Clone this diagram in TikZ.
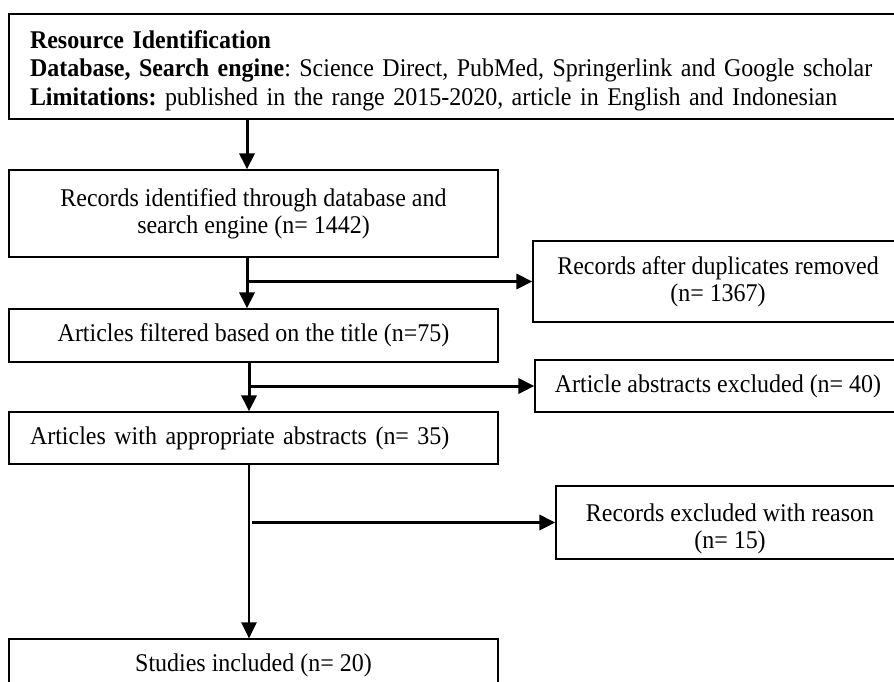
\documentclass[tikz,border=0pt]{standalone}
\usepackage{fontspec}
\setmainfont{Liberation Serif}[FakeStretch=0.94]
\usetikzlibrary{arrows.meta}
\frenchspacing
\begin{document}
\begin{tikzpicture}[x=1pt,y=-1pt,
  box/.style={draw, line width=1.2pt, rectangle, inner sep=0pt, align=center, font=\fontsize{25.5}{27}\selectfont},
  flow/.style={line width=3pt, -{Triangle[length=16pt,width=15pt]}}]
\clip (0,0) rectangle (894,682);
\node[box, minimum width=922pt, minimum height=105pt, text width=880pt, align=left, font=\fontsize{25.5}{28.5}\selectfont] (res) at (470,66.5)
  {\rule{0pt}{26pt}\textbf{Resource Identification}\\
   \textbf{Database, Search engine}: Science Direct, PubMed, Springerlink and Google scholar\\
   \textbf{Limitations:} published in the range 2015-2020, article in English and Indonesian};
\node[box, minimum width=489pt, minimum height=87pt] (rec) at (253.5,213.5)
  {Records identified through database and\\search engine (n= 1442)};
\node[box, minimum width=489pt, minimum height=53pt] (title) at (253.5,335.5)
  {Articles filtered based on the title (n=75)};
\node[box, minimum width=370pt, minimum height=81pt] (dup) at (718,281.5)
  {Records after duplicates removed\\(n= 1367)};
\node[box, minimum width=366pt, minimum height=52pt] (abs) at (718,386)
  {Article abstracts excluded (n= 40)};
\node[box, minimum width=489pt, minimum height=52pt, text width=447pt, align=left] (appr) at (253.5,438)
  {Articles with appropriate abstracts (n= 35)};
\node[box, minimum width=348pt, minimum height=73pt] (excl) at (730,522.5)
  {\rule{0pt}{30pt}Records excluded with reason\\(n= 15)};
\node[box, minimum width=489pt, minimum height=52pt] (incl) at (253.5,665)
  {Studies included (n= 20)};
\coordinate (c0) at (247,0);
\draw[flow] (res.south -| c0) -- (rec.north -| c0);
\coordinate (b1) at (247,281.5);
\draw[flow] (rec.south -| b1) -- (title.north -| b1);
\draw[flow] (b1) -- (dup.west);
\coordinate (b2) at (249,386);
\draw[flow] (title.south -| b2) -- (appr.north -| b2);
\draw[flow] (b2) -- (abs.west);
\coordinate (b3) at (249,522.5);
\draw[flow, line width=2.2pt] (appr.south -| b3) -- (incl.north -| b3);
\coordinate (b3s) at (252,522.5);
\draw[flow] (b3s) -- (excl.west);
\end{tikzpicture}
\end{document}
